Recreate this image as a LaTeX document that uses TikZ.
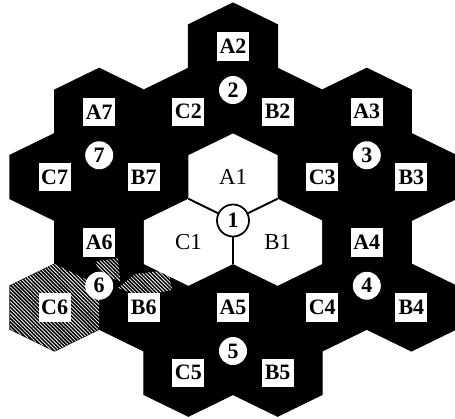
\documentclass[tikz,border=0pt]{standalone}
\usepackage{fontspec}
\setmainfont{Liberation Serif}
\usetikzlibrary{patterns.meta}
\definecolor{CellBlack}{RGB}{0,0,0}
\definecolor{CellWhite}{RGB}{255,255,255}

% one hexagonal cell, pointy top, centred at (#2,#3)
\newcommand{\hexcell}[3][]{%
  \path[#1,shift={(#2,#3)}] (0,1)--(0.866,0.5)--(0.866,-0.5)--(0,-1)--(-0.866,-0.5)--(-0.866,0.5)--cycle;}

\begin{document}
\begin{tikzpicture}[x=1.03cm,y=0.87cm,
    cellfill/.style={fill=CellBlack,draw=CellBlack,line width=0.6pt},
    hatchfill/.style={pattern={Lines[angle=-45,distance=1.5pt,line width=0.45pt]},pattern color=CellWhite},
    lab/.style={fill=CellWhite,inner sep=1pt,minimum width=0.64cm,minimum height=0.57cm,
      font=\fontsize{12.5}{13}\selectfont\bfseries},
    num/.style={circle,fill=CellWhite,inner sep=0pt,minimum size=0.56cm,
      font=\fontsize{12.5}{13}\selectfont\bfseries}]
  \useasboundingbox (-4.66cm,-3.95cm) rectangle (4.44cm,4.41cm);
  % outer clusters
  \foreach \k/\cx/\cy in {2/0/3,3/2.598/1.5,4/2.598/-1.5,5/0/-3,6/-2.598/-1.5,7/-2.598/1.5}{
    \hexcell[cellfill]{\cx}{\cy+1}
    \hexcell[cellfill]{\cx+0.866}{\cy-0.5}
    \hexcell[cellfill]{\cx-0.866}{\cy-0.5}
  }
  % shaded cell C6
  \hexcell[hatchfill]{-3.464}{-2}
  \fill[hatchfill] (-2.68,-0.95)--(-2.23,-0.86)--(-2.19,-1.41)--(-2.58,-1.18)--cycle;
  \fill[hatchfill] (-2.23,-1.55)--(-1.90,-1.23)--(-1.26,-1.14)--(-1.18,-1.60)--(-1.81,-1.74)--cycle;
  % centre cluster
  \hexcell[fill=CellWhite]{0}{1}
  \hexcell[fill=CellWhite]{0.866}{-0.5}
  \hexcell[fill=CellWhite]{-0.866}{-0.5}
  \coordinate (jAC) at (-0.866,0.5);
  \coordinate (jAB) at (0.866,0.5);
  \coordinate (jBC) at (0,-1);
  \node[num,draw=CellBlack,line width=1pt,minimum size=0.64cm] (n1) at (0,0) {1};
  \foreach \j in {jAC,jAB,jBC}{\draw[line width=1.1pt] (n1)--(\j);}
  \node[font=\fontsize{13}{14}\selectfont] (A1) at (0,1) {A1};
  \node[font=\fontsize{13}{14}\selectfont] (B1) at (0.866,-0.5) {B1};
  \node[font=\fontsize{13}{14}\selectfont] (C1) at (-0.866,-0.5) {C1};
  % labels of the outer clusters
  \foreach \k/\cx/\cy in {2/0/3,3/2.598/1.5,4/2.598/-1.5,5/0/-3,6/-2.598/-1.5,7/-2.598/1.5}{
    \node[num] (n\k) at (\cx,\cy) {\k};
    \node[lab] (A\k) at (\cx,\cy+1) {A\k};
    \node[lab] (B\k) at (\cx+0.866,\cy-0.5) {B\k};
    \node[lab] (C\k) at (\cx-0.866,\cy-0.5) {C\k};
  }
\end{tikzpicture}
\end{document}
